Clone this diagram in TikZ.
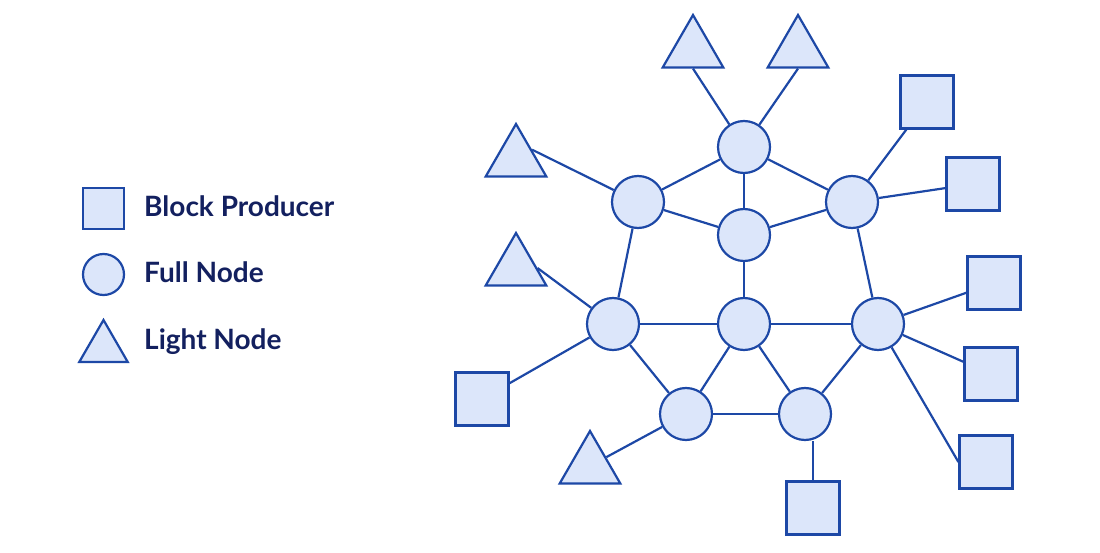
\documentclass[tikz,border=0pt]{standalone}
\usepackage{fontspec}
\setmainfont{Lato}
\usepackage{tikz}
\usetikzlibrary{positioning, shapes.geometric}
\definecolor{netblue}{HTML}{1D48A6}
\definecolor{netfill}{HTML}{DCE6FA}
\definecolor{navy}{HTML}{13205F}
\tikzset{
    full/.style={circle, draw=netblue, fill=netfill, line width=2.2pt, minimum size=52pt, inner sep=0pt},
    producer/.style={rectangle, draw=netblue, fill=netfill, line width=2.2pt, minimum size=53pt, inner sep=0pt},
    light/.style={regular polygon, regular polygon sides=3, draw=netblue, fill=netfill, line width=2.2pt, minimum size=70pt, inner sep=0pt},
    link/.style={draw=netblue, line width=2.2pt},
    legend/.style={anchor=west, text=navy, font=\fontsize{28}{30}\selectfont\bfseries, inner sep=0pt, text height=20pt, text depth=0pt},
}

\begin{document}
\begin{tikzpicture}[x=1pt, y=-1pt]
        \useasboundingbox (0,0) rectangle (1100,553);
        % legend
        \node [producer, minimum size=41pt] (lsq) at (103.5,208.5) {};
        \node [full, minimum size=41pt] (lcirc) at (103.5,274.5) {};
        \node [light, minimum size=56pt] (ltri) at (103.5,348) {};
        \node [legend] (lblock) at (144,207) {Block Producer};
        \node [legend] (lfull) at (144,273) {Full Node};
        \node [legend] (llight) at (144,339) {Light Node};
        % full nodes
        \node [full] (top) at (744,147) {};
        \node [full] (nw) at (638,202) {};
        \node [full] (ne) at (852,202) {};
        \node [full] (hub) at (744,235) {};
        \node [full] (w) at (613,324) {};
        \node [full] (c) at (744,324) {};
        \node [full] (e) at (878,324) {};
        \node [full] (sw) at (686,414) {};
        \node [full] (se) at (805,414) {};
        % light nodes
        \node [light] (ta) at (693,50) {};
        \node [light] (tb) at (798,50) {};
        \node [light] (tc) at (516,159) {};
        \node [light] (td) at (516,268) {};
        \node [light] (te) at (590,466) {};
        % block producers
        \node [producer] (pa) at (927,102) {};
        \node [producer] (pb) at (973,184) {};
        \node [producer] (pc) at (994,283) {};
        \node [producer] (pd) at (991,374) {};
        \node [producer] (pe) at (986,462) {};
        \node [producer] (pf) at (482,399) {};
        \node [producer] (pg) at (813,508) {};
        % links
        \draw[link] (ta.south) -- (top);
        \draw[link] (tb.south) -- (top);
        \draw[link] (top) -- (nw);
        \draw[link] (top) -- (ne);
        \draw[link] (top) -- (hub);
        \draw[link] (nw) -- (hub);
        \draw[link] (ne) -- (hub);
        \draw[link] (ne) -- (pa);
        \draw[link] (ne) -- (pb);
        \draw[link] (tc.side 3) -- (nw);
        \draw[link] (nw) -- (w);
        \draw[link] (ne) -- (e);
        \draw[link] (hub) -- (c);
        \draw[link] (td.east) -- (w);
        \draw[link] (w) -- (c);
        \draw[link] (c) -- (e);
        \draw[link] (e) -- (pc);
        \draw[link] (e) -- (pd);
        \draw[link] (e) -- (pe.west);
        \draw[link] (w) -- (pf);
        \draw[link] (w) -- (sw);
        \draw[link] (c) -- (sw);
        \draw[link] (c) -- (se);
        \draw[link] (e) -- (se);
        \draw[link] (sw) -- (se);
        \draw[link] (sw) -- (te);
        \draw[link] (pg.north) -- (pg.north |- se.south);
    \end{tikzpicture}
\end{document}
